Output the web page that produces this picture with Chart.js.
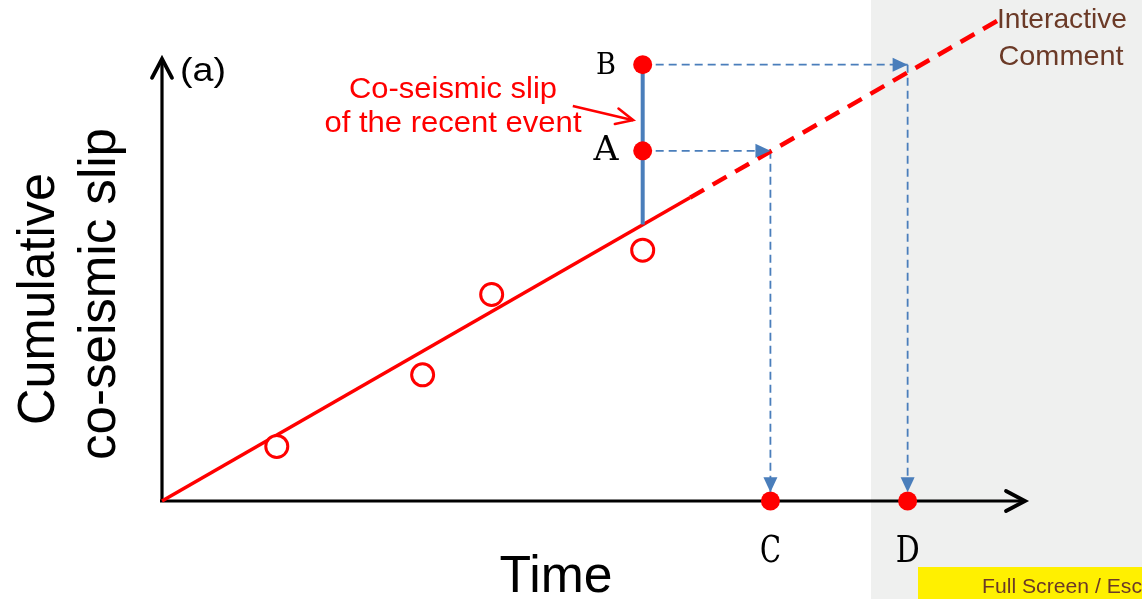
<!DOCTYPE html>
<html>
<head>
<meta charset="utf-8">
<script src="https://cdn.jsdelivr.net/npm/chart.js@4.4.1/dist/chart.umd.min.js"></script>
<style>
html,body{margin:0;padding:0;background:#fff;overflow:hidden;}
#wrap{width:1142px;height:599px;position:relative;}
</style>
</head>
<body>
<div id="wrap"><canvas id="c" width="1142" height="599"></canvas></div>
<script>
// ---- data (time, cumulative slip in arbitrary units) ----
const eventTimes = [1.33, 3.02, 3.82, 5.57];
const eventSlips = [1.12, 2.59, 4.24, 5.15];
const trendTimes = [0, 6.12];
const trendSlips = [0, 6.23];
const extrapTimes = [6.12, 9.68];
const extrapSlips = [6.23, 9.86];
const recentTime = 5.57;
const recentSlips = [5.68, 8.96];        // bottom of co-seismic step, top (B)
const pointLabels = ['A', 'B', 'C', 'D'];
const pointTimes = [5.57, 5.57, 7.05, 8.64];
const pointSlips = [7.19, 8.96, 0, 0];
const projA = { times: [5.57, 7.05, 7.05], slips: [7.19, 7.19, 0.18] };
const projB = { times: [5.57, 8.64, 8.64], slips: [8.96, 8.96, 0.18] };
const noteArrowTimes = [4.76, 5.46];
const noteArrowSlips = [8.11, 7.82];
const axisMax = { time: 10, slip: 9.08 };

const RED = '#ff0000', BLUE = '#4a7ebb', BROWN = '#6b3a27';
const pts = (xs, ys) => xs.map((x, i) => ({ x, y: ys[i] }));

function txt(ctx, s, x, y, font, color, align, w, rot) {
  ctx.save();
  ctx.font = font; ctx.fillStyle = color; ctx.textAlign = align || 'left';
  ctx.textBaseline = 'alphabetic';
  ctx.translate(x, y);
  if (rot) ctx.rotate(rot);
  if (w) { const m = ctx.measureText(s).width; ctx.scale(w / m, 1); }
  ctx.fillText(s, 0, 0);
  ctx.restore();
}

const bgPlugin = {
  id: 'bg',
  beforeDraw(chart) {
    const ctx = chart.ctx;
    ctx.save();
    ctx.fillStyle = '#eff0ef';
    ctx.fillRect(871, 0, 1142 - 871, 599);
    ctx.restore();
  },
  beforeDatasetsDraw(chart) {
    const ctx = chart.ctx, xs = chart.scales.x, ys = chart.scales.y;
    const x0 = xs.getPixelForValue(0), y0 = ys.getPixelForValue(0);
    const xe = xs.getPixelForValue(axisMax.time), ye = ys.getPixelForValue(axisMax.slip);
    ctx.save();
    ctx.strokeStyle = '#000'; ctx.lineWidth = 3.2; ctx.lineCap = 'butt';
    ctx.beginPath();
    ctx.moveTo(x0 - 2, y0); ctx.lineTo(xe - 1, y0);
    ctx.moveTo(x0, y0 + 1.5); ctx.lineTo(x0, ye + 1);
    ctx.stroke();
    ctx.lineWidth = 3.8; ctx.lineCap = 'round'; ctx.lineJoin = 'miter';
    ctx.beginPath();
    ctx.moveTo(xe - 19, y0 - 10); ctx.lineTo(xe, y0); ctx.lineTo(xe - 19, y0 + 10);
    ctx.moveTo(x0 - 10, ye + 19); ctx.lineTo(x0, ye); ctx.lineTo(x0 + 10, ye + 19);
    ctx.stroke();
    ctx.restore();
  },
  afterDatasetsDraw(chart) {
    const ctx = chart.ctx;
    chart.data.datasets.forEach((ds, i) => {
      if (!ds.arrow) return;
      const meta = chart.getDatasetMeta(i);
      const n = meta.data.length;
      const p1 = meta.data[n - 2], p2 = meta.data[n - 1];
      const ang = Math.atan2(p2.y - p1.y, p2.x - p1.x);
      ctx.save();
      ctx.translate(p2.x, p2.y); ctx.rotate(ang);
      if (ds.arrow === 'filled') {
        ctx.fillStyle = ds.borderColor;
        ctx.beginPath(); ctx.moveTo(0, 0); ctx.lineTo(-15, -7); ctx.lineTo(-15, 7); ctx.closePath(); ctx.fill();
      } else {
        ctx.strokeStyle = ds.borderColor; ctx.lineWidth = 2.5; ctx.lineCap = 'round';
        ctx.beginPath(); ctx.moveTo(-17, -8); ctx.lineTo(0, 0); ctx.lineTo(-17, 8); ctx.stroke();
      }
      ctx.restore();
    });
  },
  afterDraw(chart) {
    const ctx = chart.ctx;
    // axis titles
    txt(ctx, 'Cumulative', 54, 299, '52px "Liberation Sans", Arial, sans-serif', '#000', 'center', 252, -Math.PI / 2);
    txt(ctx, 'co-seismic slip', 115, 294, '52px "Liberation Sans", Arial, sans-serif', '#000', 'center', 332, -Math.PI / 2);
    txt(ctx, 'Time', 556, 592, '52px "Liberation Sans", Arial, sans-serif', '#000', 'center', 113);
    txt(ctx, '(a)', 180, 81, '33px "Liberation Sans", Arial, sans-serif', '#000', 'left', 46);
    // annotation
    txt(ctx, 'Co-seismic slip', 453, 98, '29px "Liberation Sans", Arial, sans-serif', RED, 'center', 208);
    txt(ctx, 'of the recent event', 453, 132, '29px "Liberation Sans", Arial, sans-serif', RED, 'center', 257);
    // point labels
    const xs = chart.scales.x;
    const serif = '"DejaVu Serif", "Liberation Serif", serif';
    txt(ctx, pointLabels[0], 606, 160, '34px ' + serif, '#000', 'center', 25);
    txt(ctx, pointLabels[1], 606, 74, '30px ' + serif, '#000', 'center', 20);
    txt(ctx, pointLabels[2], xs.getPixelForValue(pointTimes[2]), 562, '37px ' + serif, '#000', 'center', 21);
    txt(ctx, pointLabels[3], xs.getPixelForValue(pointTimes[3]), 562, '37px ' + serif, '#000', 'center', 24);
    // overlay
    txt(ctx, 'Interactive', 1062, 28, '28px "Liberation Sans", Arial, sans-serif', BROWN, 'center', 130);
    txt(ctx, 'Comment', 1061, 65, '28px "Liberation Sans", Arial, sans-serif', BROWN, 'center', 125);
    ctx.save();
    ctx.fillStyle = '#fff000';
    ctx.fillRect(918, 567, 1142 - 918, 32);
    ctx.restore();
    txt(ctx, 'Full Screen / Esc', 982, 593, '21px "Liberation Sans", Arial, sans-serif', BROWN, 'left', 160);
  }
};

const line = (o) => Object.assign({ showLine: true, pointRadius: 0, pointHoverRadius: 0, clip: false, fill: false, tension: 0 }, o);

new Chart(document.getElementById('c'), {
  type: 'scatter',
  data: {
    datasets: [
      { label: 'Points', data: pts(pointTimes, pointSlips), pointRadius: 9.5, pointBackgroundColor: RED, pointBorderWidth: 0, pointBorderColor: RED, clip: false, showLine: false },
      { label: 'Events', data: pts(eventTimes, eventSlips), pointRadius: 11, pointBackgroundColor: '#fff', pointBorderColor: RED, pointBorderWidth: 3, clip: false, showLine: false },
      line({ label: 'Note', data: pts(noteArrowTimes, noteArrowSlips), borderColor: RED, borderWidth: 2.5, arrow: 'open' }),
      line({ label: 'Recent slip', data: pts([recentTime, recentTime], recentSlips), borderColor: BLUE, borderWidth: 4 }),
      line({ label: 'Trend', data: pts(trendTimes, trendSlips), borderColor: RED, borderWidth: 3.5 }),
      line({ label: 'Extrapolation', data: pts(extrapTimes, extrapSlips), borderColor: RED, borderWidth: 4.5, borderDash: [16, 10] }),
      line({ label: 'A-h', data: pts(projA.times.slice(0, 2), projA.slips.slice(0, 2)), borderColor: BLUE, borderWidth: 1.8, borderDash: [8, 5], arrow: 'filled' }),
      line({ label: 'A-v', data: pts(projA.times.slice(1), projA.slips.slice(1)), borderColor: BLUE, borderWidth: 1.8, borderDash: [8, 5], arrow: 'filled' }),
      line({ label: 'B-h', data: pts(projB.times.slice(0, 2), projB.slips.slice(0, 2)), borderColor: BLUE, borderWidth: 1.8, borderDash: [8, 5], arrow: 'filled' }),
      line({ label: 'B-v', data: pts(projB.times.slice(1), projB.slips.slice(1)), borderColor: BLUE, borderWidth: 1.8, borderDash: [8, 5], arrow: 'filled' })
    ]
  },
  options: {
    responsive: false,
    animation: false,
    devicePixelRatio: 1,
    layout: { padding: { left: 162, right: 117, top: 10, bottom: 98 } },
    plugins: { legend: { display: false }, tooltip: { enabled: false } },
    events: [],
    scales: {
      x: { type: 'linear', min: 0, max: 10, display: false },
      y: { type: 'linear', min: 0, max: 10, display: false }
    }
  },
  plugins: [bgPlugin]
});
</script>
</body>
</html>
